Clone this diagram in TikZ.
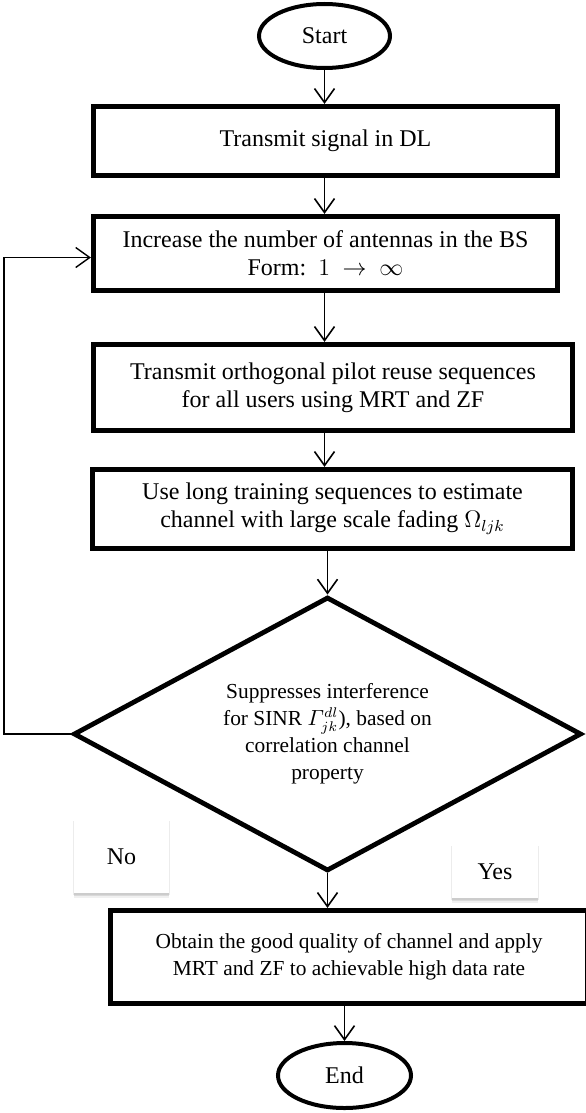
\documentclass[tikz,border=0pt,12pt]{standalone}
\usepackage{amsmath}
\usepackage{fontspec}
\setmainfont{Liberation Serif}
\usetikzlibrary{shapes.geometric,arrows.meta,shadows}

\tikzset{
  terminal/.style={draw, ellipse, line width=2pt, inner sep=0pt, font=\fontsize{12}{14}\selectfont},
  process/.style={draw, rectangle, line width=2.6pt, align=center, inner sep=0pt, font=\fontsize{12}{14}\selectfont},
  decision/.style={draw, diamond, aspect=1.87, line width=2.4pt, align=center, inner sep=0pt, font=\fontsize{10.7}{13.5}\selectfont},
  answer/.style={fill=white, inner sep=0pt, font=\fontsize{12}{14}\selectfont,
    drop shadow={shadow xshift=0pt, shadow yshift=-0.6pt, shadow scale=1.02, opacity=0.15},
    drop shadow={shadow xshift=0pt, shadow yshift=-1.5pt, shadow scale=1.01, opacity=0.2},
    drop shadow={shadow xshift=0pt, shadow yshift=-2.6pt, opacity=0.12}},
  flow/.style={-{Straight Barb[length=7pt,width=10pt]}, line width=0.8pt}
}

\begin{document}
\begin{tikzpicture}[x=0.5pt, y=-0.5pt]
    \useasboundingbox (0,0) rectangle (585,1113);

    % Terminals and steps
    \node[terminal, minimum width=65.5pt, minimum height=32pt] (start) at (324.5,36) {Start};
    \node[process, minimum width=232pt, minimum height=34.5pt] (box1) at (325.5,141) {Transmit signal in DL};
    \node[process, minimum width=232pt, minimum height=37pt] (box2) at (325.5,253.5) {Increase the number of antennas in the BS\\Form:\ \ $1\ \rightarrow\ \infty$};
    \node[process, minimum width=239.5pt, minimum height=43pt] (box3) at (333,387.5) {Transmit orthogonal pilot reuse sequences\\for all users using MRT and ZF};
    \node[process, minimum width=240pt, minimum height=39.5pt] (box4) at (332.5,509) {Use long training sequences to estimate\\channel with large scale fading $\Omega_{ljk}$};

    % Decision
    \node[decision, minimum width=254pt, minimum height=137pt] (dec) at (327.5,734) {Suppresses interference\\for SINR $\varGamma_{jk}^{dl}$), based on\\correlation channel\\property};

    % Answers
    \node[answer, minimum width=47.5pt, minimum height=36.5pt] (no) at (121.5,856.5) {No};
    \node[answer, minimum width=43pt, minimum height=26.5pt] (yes) at (495,871.5) {Yes};

    \node[process, minimum width=238.5pt, minimum height=46.5pt, font=\fontsize{10.7}{13.5}\selectfont] (final) at (349,957) {Obtain the good quality of channel and apply\\MRT and ZF to achievable high data rate};
    \node[terminal, minimum width=66.5pt, minimum height=32.5pt] (end) at (344.5,1075.5) {End};

    % Connectors
    \draw[flow] (start.south) -- (start.south |- box1.north);
    \draw[flow] (box1.south -| start.south) -- (box2.north -| start.south);
    \draw[flow] (box2.south -| start.south) -- (box3.north -| start.south);
    \draw[flow] (box3.south -| start.south) -- (box4.north -| start.south);
    \draw[flow] (box4.south -| dec.north) -- (dec.north);
    \draw[flow] (dec.south) -- (dec.south |- final.north);
    \draw[flow] (end.north |- final.south) -- (end.north);

    % Loop back
    \coordinate (back) at (4,734);
    \draw[flow, line width=0.7pt] (dec.west) -- (back) |- ([yshift=-2pt]box2.west);
\end{tikzpicture}
\end{document}
